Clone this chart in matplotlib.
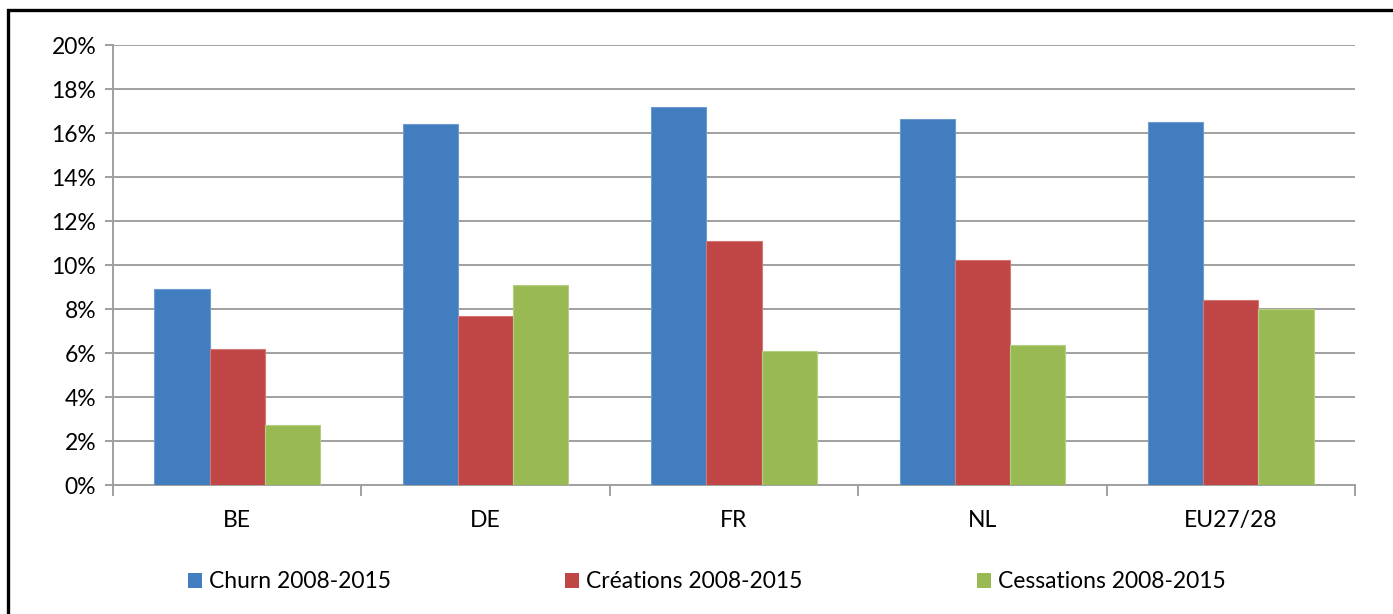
from matplotlib import pyplot as plt
from matplotlib.patches import Patch, Rectangle
from matplotlib.ticker import FuncFormatter, MultipleLocator
import numpy as np

plt.rcParams['font.family'] = ['Lato', 'DejaVu Sans']

countries = ['BE', 'DE', 'FR', 'NL', 'EU27/28']
series = ['Churn 2008-2015', 'Créations 2008-2015', 'Cessations 2008-2015']
churn = [8.93, 16.42, 17.18, 16.63, 16.5]
creations = [6.19, 7.68, 11.09, 10.23, 8.41]
cessations = [2.73, 9.1, 6.1, 6.36, 8.0]
colors = ['#417DBF', '#BF4645', '#99BA53']
edges = ['#6F9BD1', '#D47877', '#B5CF82']

fig = plt.figure(figsize=(13.93, 6.14), dpi=100)
ax = fig.add_axes([113/1393, 1 - 485/614, (1355-113)/1393, (485-45)/614])

x = np.arange(len(countries))
w = 0.222
for i, vals in enumerate([churn, creations, cessations]):
    ax.bar(x + (i - 1) * w, vals, w, color=colors[i], edgecolor=edges[i],
           linewidth=0.8, zorder=3)

ax.set_xlim(-0.5, len(countries) - 0.5)
ax.set_ylim(0, 20)
ax.yaxis.set_major_locator(MultipleLocator(2))
ax.yaxis.set_major_formatter(FuncFormatter(lambda v, p: '%d%%' % v))
ax.grid(axis='y', color='#A0A0A0', linewidth=1.4, zorder=0)

fs = 16.5
ax.set_xticks(x)
ax.set_xticklabels(countries)
ax.set_xticks(np.arange(-0.5, len(countries)), minor=True)
ax.tick_params(axis='x', which='major', length=0, pad=18, labelsize=fs)
ax.tick_params(axis='x', which='minor', length=8, width=1.4, color='#A0A0A0')
ax.tick_params(axis='y', length=6, width=1.4, color='#A0A0A0', pad=6, labelsize=fs)

for s in ['top', 'right']:
    ax.spines[s].set_visible(False)
for s in ['left', 'bottom']:
    ax.spines[s].set_color('#A0A0A0')
    ax.spines[s].set_linewidth(1.4)

handles = [Patch(facecolor=c) for c in colors]
fig.legend(handles, series, loc='center', bbox_to_anchor=(707/1393, 1 - 582/614),
           ncol=3, frameon=False, fontsize=fs, handlelength=0.6, handleheight=0.6,
           handletextpad=0.32, columnspacing=7.6)

fig.patches.append(Rectangle((8/1393, -0.1), 1.1, 1.1 - 10/614, transform=fig.transFigure,
                             fill=False, edgecolor='black', linewidth=2.4))

plt.savefig('out.png', dpi=100)
